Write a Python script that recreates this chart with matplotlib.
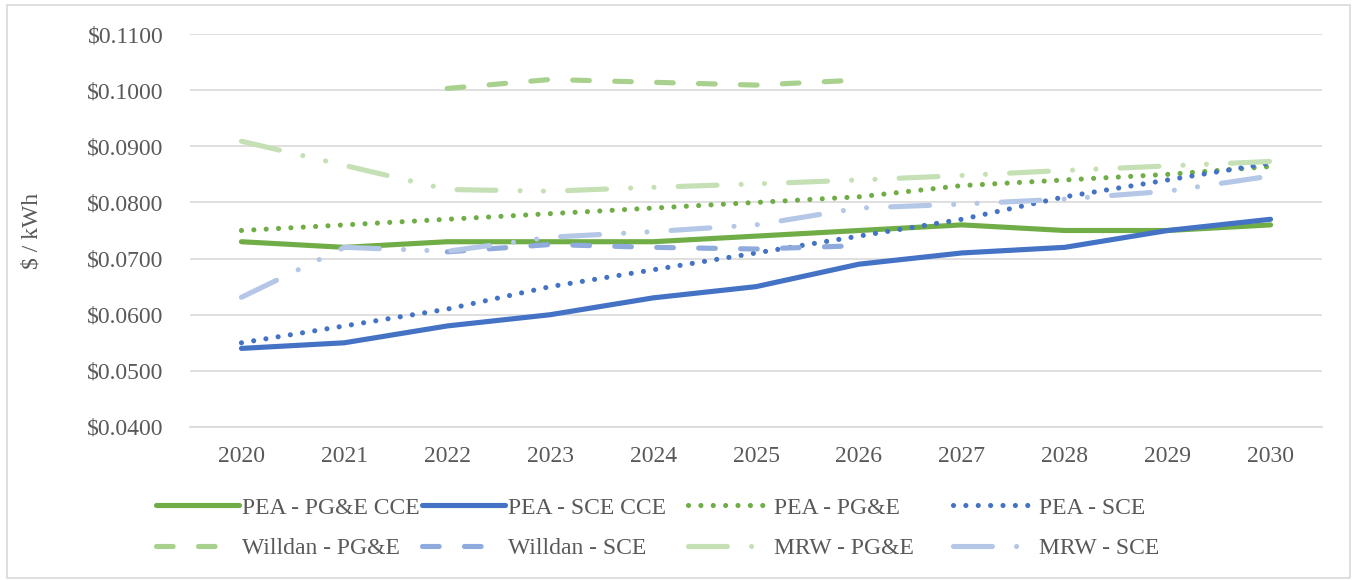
import numpy as np
import matplotlib
matplotlib.use("Agg")
import matplotlib.pyplot as plt
from matplotlib.patches import Rectangle
from matplotlib.ticker import FuncFormatter

plt.rcParams['font.family'] = ['Liberation Serif', 'DejaVu Serif']
plt.rcParams['lines.scale_dashes'] = False

years = [2020, 2021, 2022, 2023, 2024, 2025, 2026, 2027, 2028, 2029, 2030]
nan = np.nan

pea_pge_cce = [0.0730, 0.0720, 0.0730, 0.0730, 0.0730, 0.0740, 0.0750, 0.0760, 0.0750, 0.0750, 0.0760]
pea_sce_cce = [0.0540, 0.0550, 0.0580, 0.0600, 0.0630, 0.0650, 0.0690, 0.0710, 0.0720, 0.0750, 0.0770]
pea_pge = [0.0750, 0.0760, 0.0770, 0.0780, 0.0790, 0.0800, 0.0810, 0.0830, 0.0840, 0.0850, 0.0864]
pea_sce = [0.0550, 0.0580, 0.0610, 0.0650, 0.0680, 0.0710, 0.0740, 0.0770, 0.0810, 0.0840, 0.0870]
willdan_pge = [nan, nan, 0.1003, 0.1019, 0.1014, 0.1009, 0.1018, nan, nan, nan, nan]
willdan_sce = [nan, nan, 0.0712, 0.0725, 0.0720, 0.0717, 0.0723, nan, nan, nan, nan]
mrw_pge = [0.0909, 0.0866, 0.0823, 0.0820, 0.0827, 0.0833, 0.0840, 0.0848, 0.0857, 0.0865, 0.0873]
mrw_sce = [0.0631, 0.0720, 0.0713, 0.0738, 0.0748, 0.0760, 0.0790, 0.0797, 0.0806, 0.0820, 0.0847]

labels = ["PEA - PG&E CCE", "PEA - SCE CCE", "PEA - PG&E", "PEA - SCE",
          "Willdan - PG&E", "Willdan - SCE", "MRW - PG&E", "MRW - SCE"]
series = [pea_pge_cce, pea_sce_cce, pea_pge, pea_sce,
          willdan_pge, willdan_sce, mrw_pge, mrw_sce]
colors = ["#70AD47", "#4472C4", "#70AD47", "#4472C4",
          "#A9D18E", "#8FAADC", "#C5E0B4", "#B4C7E7"]
solid = None
dot = (0, (0.01, 8.9))
dash = (0, (12.0, 18.2))
lddd = (0, (28.0, 17.4, 0.01, 16.8, 0.01, 17.4))
styles = [solid, solid, dot, dot, dash, dash, lddd, lddd]

W, H = 1353, 580
fig = plt.figure(figsize=(W / 100, H / 100), dpi=100)
ax = fig.add_axes([190 / W, 1 - 427 / H, 1132 / W, (427 - 34) / H])

x = np.arange(len(years))
lines = []
for vals, lab, col, ls in zip(series, labels, colors, styles):
    ln, = ax.plot(x, vals, color=col, lw=3.7, label=lab,
                  solid_capstyle='round', dash_capstyle='round', solid_joinstyle='round')
    if ls is not None:
        ln.set_linestyle(ls)
    lines.append(ln)

ax.set_xlim(-0.5, len(years) - 0.5)
ax.set_ylim(0.04, 0.11)
ax.set_yticks(np.arange(0.04, 0.1101, 0.01))
ax.yaxis.set_major_formatter(FuncFormatter(lambda v, p: f"${v:.4f}"))
ax.set_xticks(x)
ax.set_xticklabels([str(y) for y in years])
ax.grid(axis='y', color='#D9D9D9', lw=1.2)
ax.set_axisbelow(True)
for s in ['top', 'right', 'left']:
    ax.spines[s].set_visible(False)
ax.spines['bottom'].set_color('#D9D9D9')
ax.spines['bottom'].set_linewidth(1.2)
ax.tick_params(axis='both', length=0, labelsize=17, colors='#595959')
ax.tick_params(axis='y', pad=19)
ax.tick_params(axis='x', pad=14)
ax.set_ylabel("$ / kWh", fontsize=17, color='#595959', labelpad=32)

# legend: four columns of two rows, placed like Excel's equal-width columns
col_x = [156, 422, 688, 953]
for i, cx in enumerate(col_x):
    leg = fig.legend([lines[i], lines[i + 4]], [labels[i], labels[i + 4]],
                     loc='upper left', bbox_to_anchor=(cx / W, 1 - 497 / H),
                     frameon=False, fontsize=17, handlelength=3.5,
                     handletextpad=0.15, borderpad=0, borderaxespad=0,
                     labelspacing=0.8, labelcolor='#595959')

fig.patches.append(Rectangle((7 / W, 2 / H), (1350 - 7) / W, (575 - 2) / H,
                             transform=fig.transFigure, fill=False,
                             edgecolor='#D9D9D9', lw=1.2))

fig.savefig("out.png", dpi=100)
